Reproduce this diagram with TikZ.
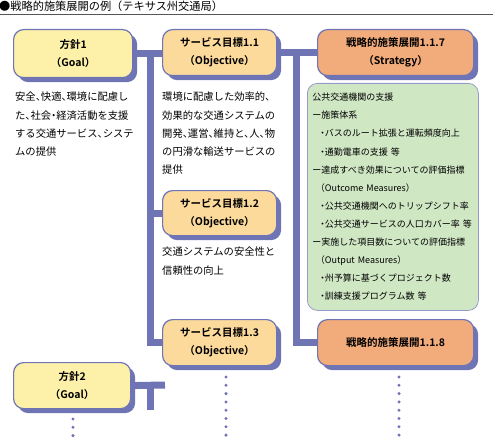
\documentclass[tikz,border=0pt]{standalone}
\usepackage{fontspec}
\setmainfont{Noto Sans CJK JP}[BoldFont={Noto Sans CJK JP Bold}]
\newfontfamily\jph{Noto Sans CJK JP}[RawFeature=+halt]
\usetikzlibrary{shadows,backgrounds}
\definecolor{barblue}{RGB}{110,116,180}
\definecolor{goalfill}{RGB}{253,241,169}
\definecolor{objfill}{RGB}{252,218,156}
\definecolor{stratfill}{RGB}{242,171,123}
\definecolor{greenfill}{RGB}{208,231,196}
\definecolor{greenline}{RGB}{150,155,205}
\definecolor{rulegray}{RGB}{85,85,85}
\newcommand\lead{{\rmfamily ー}}
\tikzset{
  boxbase/.style={anchor=north west, draw=barblue, line width=1.2pt, rounded corners=10pt,
    inner sep=0pt, align=center, font=\bfseries\fontsize{10.5}{18}\selectfont,
    general shadow={fill=barblue, shadow xshift=4.5pt, shadow yshift=-4.5pt}},
  goalbox/.style={boxbase, fill=goalfill},
  objbox/.style={boxbase, fill=objfill, minimum width=114pt, minimum height=46pt},
  stratbox/.style={boxbase, fill=stratfill, minimum width=156pt, minimum height=46pt},
  desctext/.style={anchor=north west, inner sep=0pt, align=left, font=\jph\fontsize{10.3}{18.2}\selectfont},
  greenbox/.style={anchor=north west, draw=greenline, line width=0.8pt, fill=greenfill,
    rounded corners=10pt, inner xsep=5pt, inner ysep=0pt, text width=161pt, minimum height=227pt,
    align=left, font=\jph\fontsize{9}{18.1}\selectfont},
  conbar/.style={draw=barblue, line width=7pt, line join=miter},
  contdots/.style={draw=barblue, line width=3.3pt, line cap=round, dash pattern=on 0pt off 8.3pt},
}
\begin{document}
\begin{tikzpicture}[x=1pt,y=-1pt]
\useasboundingbox (0,0) rectangle (493,444);
% title
\node[anchor=west, inner sep=0pt, font=\fontsize{11.2}{13}\selectfont] (title) at (-1,6.5) {●戦略的施策展開の例（テキサス州交通局）};
\draw[rulegray, line width=1pt] (0,14.5) -- (493,14.5);

% boxes
\node[goalbox, minimum width=119pt, minimum height=48pt] (g1) at (13,29) {方針1\\（Goal）};
\node[objbox] (o11) at (162,29) {サービス目標1.1\\（Objective）};
\node[stratbox] (s117) at (317,29) {戦略的施策展開1.1.7\\（Strategy）};
\node[objbox, minimum height=45pt] (o12) at (162,190) {サービス目標1.2\\（Objective）};
\node[objbox] (o13) at (162,319) {サービス目標1.3\\（Objective）};
\node[stratbox] (s118) at (317,319) {戦略的施策展開1.1.8};
\node[goalbox, minimum width=117pt, minimum height=46pt] (g2) at (13,362) {方針2\\（Goal）};

% descriptions
\node[desctext] (d1) at (15,92) {安全、快適、環境に配慮し\\た、社会・経済活動を支援\\する交通サービス、システ\\ムの提供};
\node[desctext] (d11) at (162,92) {環境に配慮した効率的、\\効果的な交通システムの\\開発、運営、維持と、人、物\\の円滑な輸送サービスの\\提供};
\node[desctext] (d12) at (162,247) {交通システムの安全性と\\信頼性の向上};

\node[greenbox] (s117d) at (307,83) {公共交通機関の支援\\
\lead 施策体系\\
\hspace*{8pt}・バスのルート拡張と運転頻度向上\\
\hspace*{8pt}・通勤電車の支援~等\\
\lead 達成すべき効果についての評価指標\\
\hspace*{8pt}（Outcome~Measures）\\
\hspace*{8pt}・公共交通機関へのトリップシフト率\\
\hspace*{8pt}・公共交通サービスの人口カバー率~等\\
\lead 実施した項目数についての評価指標\\
\hspace*{8pt}（Output~Measures）\\
\hspace*{8pt}・州予算に基づくプロジェクト数\\
\hspace*{8pt}・訓練支援プログラム数~等};

% connector coordinates
\coordinate (trunkL) at (150,0);
\coordinate (trunkR) at (296.5,0);
\coordinate (g2end) at (165,385);
\coordinate (g2foot) at (150,410);
\coordinate (dotsA) at (226,377);
\coordinate (dotsB) at (399,377);
\coordinate (dotsC) at (73,419);

\begin{scope}[on background layer]
\draw[conbar] (g1.east) -- (g1.east -| o11.west);
\draw[conbar] (trunkL |- g1.east) -- (trunkL |- o13.west) -- (o13.west);
\draw[conbar] (trunkL |- o12.west) -- (o12.west);
\draw[conbar] (o11.east) -- (s117.west);
\draw[conbar] (trunkR |- s117.west) -- (trunkR |- s118.west) -- (s118.west);
\draw[conbar] (g2.east) -- (g2end);
\draw[conbar] (trunkL |- g2.east) -- (g2foot);
\end{scope}

% continuation dots
\draw[contdots] (dotsA) -- ++(0,58.5);
\draw[contdots] (dotsB) -- ++(0,58.5);
\draw[contdots] (dotsC) -- ++(0,17);
\end{tikzpicture}
\end{document}
